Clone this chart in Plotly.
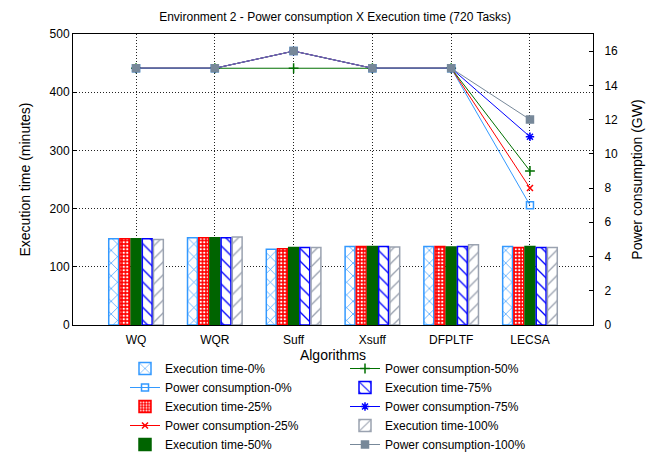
import plotly.graph_objects as go

algorithms = ["WQ", "WQR", "Suff", "Xsuff", "DFPLTF", "LECSA"]
levels = ["0%", "25%", "50%", "75%", "100%"]

exec_0 = [148, 150, 130, 135, 135, 135]
exec_25 = [148, 150, 131, 135, 135, 133]
exec_50 = [148, 150, 133, 135, 134, 135]
exec_75 = [148, 150, 133, 135, 135, 133]
exec_100 = [147, 151, 133, 134, 138, 133]

power_0 = [15, 15, 16, 15, 15, 7]
power_25 = [15, 15, 16, 15, 15, 8]
power_50 = [15, 15, 15, 15, 15, 9]
power_75 = [15, 15, 16, 15, 15, 11]
power_100 = [15, 15, 16, 15, 15, 12]

exec_series = [exec_0, exec_25, exec_50, exec_75, exec_100]
power_series = [power_0, power_25, power_50, power_75, power_100]

bar_styles = [
    dict(color="#3399ff", shape="x", fg="#3399ff", bg="white", size=9, sol=0.15),
    dict(color="#ff0000", shape=".", fg="white", bg="#ff0000", size=3.5, sol=0.35),
    dict(color="#006400", shape="", fg="#006400", bg="#006400", size=8, sol=0.2),
    dict(color="#0000ff", shape="\\", fg="#0000ff", bg="white", size=9, sol=0.15),
    dict(color="#9aa2b0", shape="/", fg="#9aa2b0", bg="white", size=9, sol=0.15),
]
line_styles = [
    dict(color="#3399ff", symbol="square-open", size=7),
    dict(color="#ff0000", symbol="x-thin-open", size=6),
    dict(color="#007000", symbol="cross-thin-open", size=7),
    dict(color="#0000ff", symbol="asterisk-open", size=7),
    dict(color="#778899", symbol="square", size=7),
]

fig = go.Figure()
order = []
for i in range(5):
    order.append(("bar", i))
    order.append(("line", i))

for k, (kind, i) in enumerate(order):
    leg = "legend" if k < 5 else "legend2"
    if kind == "bar":
        s = bar_styles[i]
        fig.add_trace(go.Bar(
            x=algorithms, y=exec_series[i], name="Execution time-" + levels[i],
            legend=leg, yaxis="y",
            marker=dict(color=s["bg"], line=dict(color=s["color"], width=1.5),
                        pattern=dict(shape=s["shape"], fgcolor=s["fg"], bgcolor=s["bg"],
                                     size=s["size"], solidity=s["sol"], fillmode="replace")),
        ))
    else:
        s = line_styles[i]
        fig.add_trace(go.Scatter(
            x=algorithms, y=power_series[i], name="Power consumption-" + levels[i],
            legend=leg, yaxis="y2", mode="lines+markers",
            line=dict(color=s["color"], width=1),
            marker=dict(symbol=s["symbol"], size=s["size"], color=s["color"],
                        line=dict(color=s["color"], width=1.5)),
        ))

font = dict(family="Liberation Sans, Arial, sans-serif", size=12, color="black")
grid_dash = "1px,2px"

plot_left, plot_right, page_w = 73, 593, 652
plot_top, plot_bottom, page_h = 34, 325, 453
plot_w = plot_right - plot_left
plot_h = plot_bottom - plot_top
legend_top_px = 354
legend_y = -(legend_top_px - plot_bottom) / plot_h

fig.update_layout(
    width=page_w, height=page_h,
    margin=dict(l=plot_left, r=page_w - plot_right, t=plot_top, b=page_h - plot_bottom,
                autoexpand=False),
    paper_bgcolor="white", plot_bgcolor="white",
    font=font,
    title=dict(text="Environment 2 - Power consumption X Execution time (720 Tasks)",
               x=0.514, xanchor="center", y=1 - 17 / page_h, yanchor="middle",
               font=dict(size=12)),
    barmode="group", bargap=0.29, bargroupgap=0.12,
    xaxis=dict(title=dict(text="Algorithms", standoff=3), range=[-0.8, 5.8],
               showline=True, linecolor="black", linewidth=1, mirror=True,
               showgrid=True, gridcolor="#222", griddash=grid_dash, gridwidth=1,
               ticks="", tickfont=dict(size=12), tickangle=0, automargin=True,
               ticklabelstandoff=4),
    yaxis=dict(title=dict(text="Execution time (minutes)"), range=[0, 500],
               dtick=100, showline=True, linecolor="black", linewidth=1,
               showgrid=True, gridcolor="#222", griddash=grid_dash, gridwidth=1,
               ticks="inside", ticklen=4, tickcolor="black", zeroline=False),
    yaxis2=dict(title=dict(text="Power consumption (GW)"), range=[0, 17],
                dtick=2, overlaying="y", side="right", showline=True, linecolor="black",
                linewidth=1, showgrid=False, ticks="inside", ticklen=4, tickcolor="black",
                zeroline=False, ticklabelstandoff=8),
    legend=dict(x=(125 - plot_left) / plot_w, y=legend_y,
                xanchor="left", yanchor="top", bgcolor="rgba(0,0,0,0)",
                font=dict(size=12), tracegroupgap=0),
    legend2=dict(x=(345 - plot_left) / plot_w, y=legend_y,
                 xanchor="left", yanchor="top", bgcolor="rgba(0,0,0,0)",
                 font=dict(size=12), tracegroupgap=0),
)

fig.write_html("out.html", config={"displayModeBar": False},
               post_script="document.body.style.margin='0';")
